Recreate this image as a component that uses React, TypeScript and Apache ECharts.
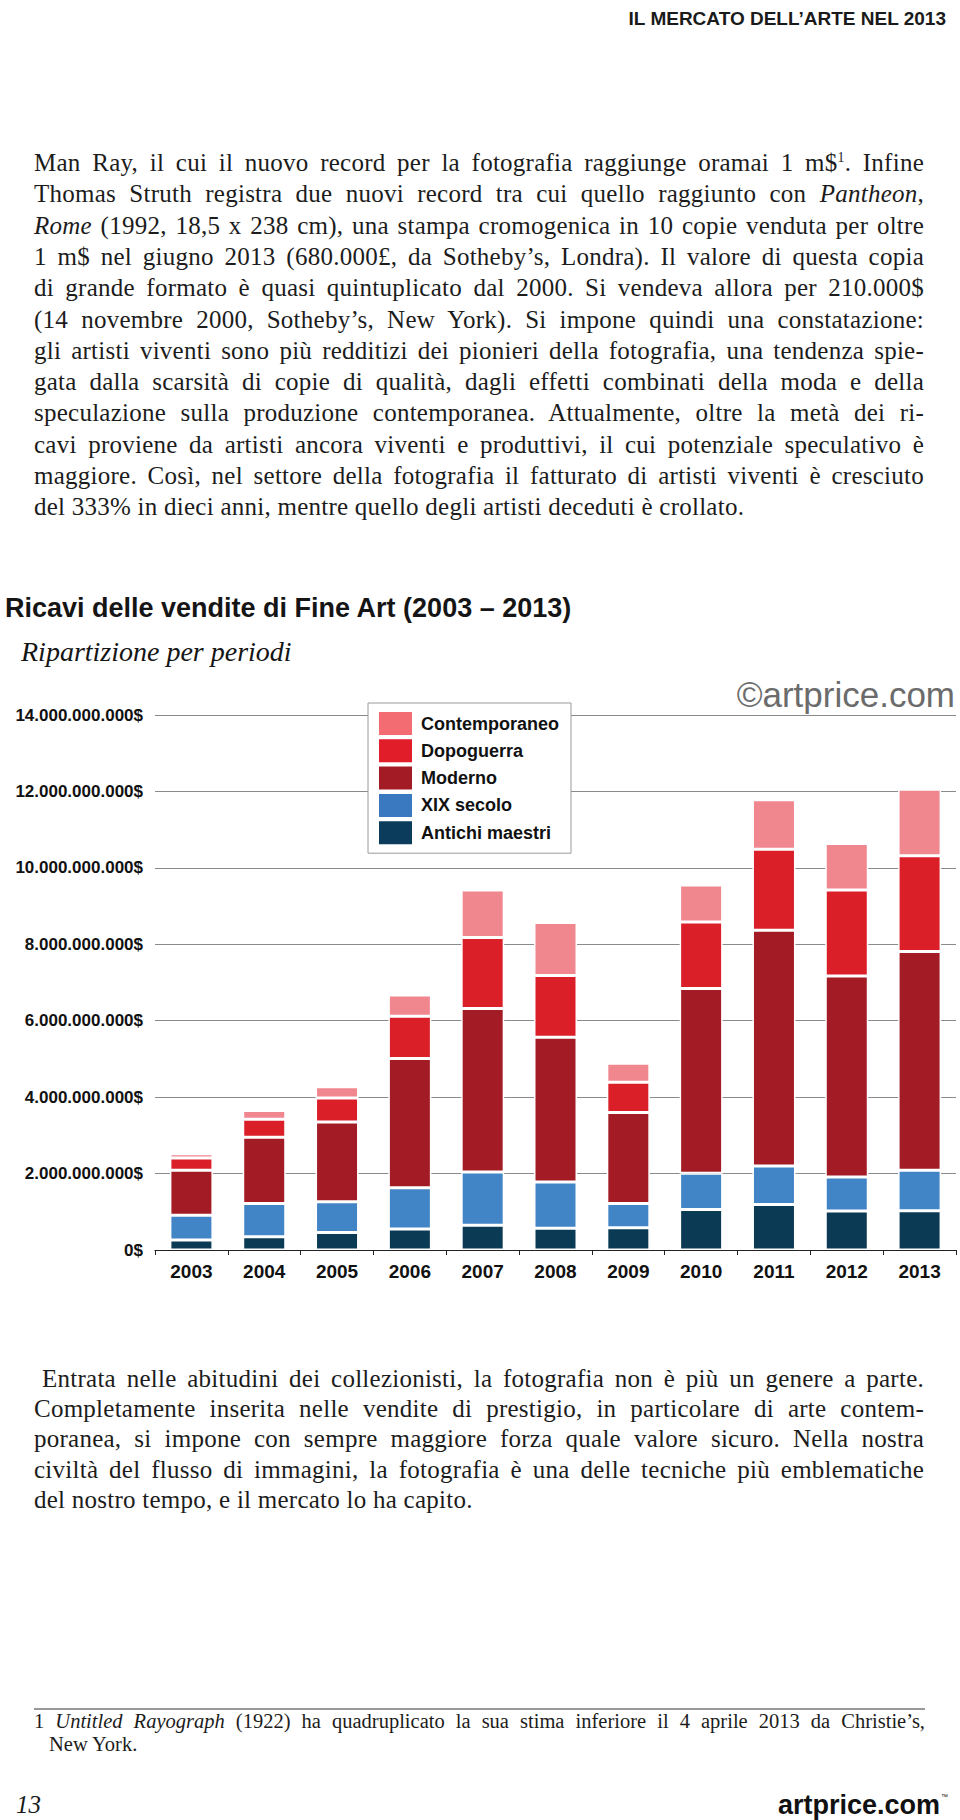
import React, { useEffect, useRef } from "react";
import * as echarts from "echarts";

// ---------- DATA (billions of US$) ----------
const years = ["2003", "2004", "2005", "2006", "2007", "2008", "2009", "2010", "2011", "2012", "2013"];
const antichiMaestri = [0.26, 0.35, 0.46, 0.55, 0.65, 0.57, 0.58, 1.06, 1.19, 1.02, 1.03];
const xixSecolo = [0.65, 0.87, 0.8, 1.08, 1.39, 1.21, 0.64, 0.95, 1.01, 0.89, 1.06];
const moderno = [1.18, 1.73, 2.09, 3.38, 4.28, 3.79, 2.38, 4.83, 6.17, 5.26, 5.72];
const dopoguerra = [0.32, 0.47, 0.63, 1.11, 1.86, 1.61, 0.79, 1.74, 2.12, 2.25, 2.51];
const contemporaneo = [0.11, 0.23, 0.29, 0.55, 1.24, 1.39, 0.5, 0.97, 1.29, 1.22, 1.74];
const yTickLabels = ["0$", "2.000.000.000$", "4.000.000.000$", "6.000.000.000$", "8.000.000.000$", "10.000.000.000$", "12.000.000.000$", "14.000.000.000$"];
const seriesNames = ["Antichi maestri", "XIX secolo", "Moderno", "Dopoguerra", "Contemporaneo"];
const legendOrder = ["Contemporaneo", "Dopoguerra", "Moderno", "XIX secolo", "Antichi maestri"];

const colors: Record<string, string> = {
  "Antichi maestri": "#0b3a55",
  "XIX secolo": "#4285c6",
  Moderno: "#a31c25",
  Dopoguerra: "#da1f29",
  Contemporaneo: "#f0868e",
};
const legendColors: Record<string, string> = {
  "Antichi maestri": "#0b3c5c",
  "XIX secolo": "#3a78c0",
  Moderno: "#a31c25",
  Dopoguerra: "#e21d2a",
  Contemporaneo: "#f26c71",
};

function hasFont(name: string): boolean {
  try {
    const c = document.createElement("canvas").getContext("2d");
    if (!c) return false;
    const s = "mmmmmmmmmmlli.0123456789WWW";
    c.font = "40px monospace";
    const a = c.measureText(s).width;
    c.font = `40px "${name}", monospace`;
    return Math.abs(c.measureText(s).width - a) > 0.5;
  } catch (e) {
    return false;
  }
}

const SERIF = "'Liberation Serif', 'Times New Roman', serif";
const SANS = "'Liberation Sans', Arial, sans-serif";

type Ln = { c: React.ReactNode; j: boolean; indent?: number };

const para1: Ln[] = [
  { c: <>Man Ray, il cui il nuovo record per la fotografia raggiunge oramai 1 m$<sup style={{ fontSize: "0.55em", lineHeight: 0 }}>1</sup>. Infine</>, j: true },
  { c: <>Thomas Struth registra due nuovi record tra cui quello raggiunto con <i>Pantheon</i>,</>, j: true },
  { c: <><i>Rome</i> (1992, 18,5 x 238 cm), una stampa cromogenica in 10 copie venduta per oltre</>, j: true },
  { c: <>1 m$ nel giugno 2013 (680.000£, da Sotheby’s, Londra). Il valore di questa copia</>, j: true },
  { c: <>di grande formato è quasi quintuplicato dal 2000. Si vendeva allora per 210.000$</>, j: true },
  { c: <>(14 novembre 2000, Sotheby’s, New York). Si impone quindi una constatazione:</>, j: true },
  { c: <>gli artisti viventi sono più redditizi dei pionieri della fotografia, una tendenza spie-</>, j: true },
  { c: <>gata dalla scarsità di copie di qualità, dagli effetti combinati della moda e della</>, j: true },
  { c: <>speculazione sulla produzione contemporanea. Attualmente, oltre la metà dei ri-</>, j: true },
  { c: <>cavi proviene da artisti ancora viventi e produttivi, il cui potenziale speculativo è</>, j: true },
  { c: <>maggiore. Così, nel settore della fotografia il fatturato di artisti viventi è cresciuto</>, j: true },
  { c: <>del 333% in dieci anni, mentre quello degli artisti deceduti è crollato.</>, j: false },
];

const para2: Ln[] = [
  { c: <>Entrata nelle abitudini dei collezionisti, la fotografia non è più un genere a parte.</>, j: true, indent: 8 },
  { c: <>Completamente inserita nelle vendite di prestigio, in particolare di arte contem-</>, j: true },
  { c: <>poranea, si impone con sempre maggiore forza quale valore sicuro. Nella nostra</>, j: true },
  { c: <>civiltà del flusso di immagini, la fotografia è una delle tecniche più emblematiche</>, j: true },
  { c: <>del nostro tempo, e il mercato lo ha capito.</>, j: false },
];

const footnote: Ln[] = [
  { c: <>1 <i>Untitled Rayograph</i> (1922) ha quadruplicato la sua stima inferiore il 4 aprile 2013 da Christie’s,</>, j: true },
  { c: <>New York.</>, j: false, indent: 15 },
];

function Lines({ lines, firstBaseline, pitch, size, left, width, spacing }: { lines: Ln[]; firstBaseline: number; pitch: number; size: number; left: number; width: number; spacing: number }) {
  return (
    <>
      {lines.map((l, i) => {
        const ind = l.indent || 0;
        return (
          <div
            key={i}
            data-fit="1"
            style={{
              position: "absolute",
              left: left + ind,
              width: width - ind,
              top: firstBaseline + i * pitch - 0.8375 * size,
              fontFamily: SERIF,
              fontSize: size,
              letterSpacing: spacing,
              lineHeight: `${size}px`,
              color: "#1c1c1c",
              textAlign: l.j ? "justify" : "left",
              textAlignLast: l.j ? "justify" : "left",
            } as React.CSSProperties}
          >
            {l.c}
          </div>
        );
      })}
    </>
  );
}

export default function App() {
  const ref = useRef<HTMLDivElement>(null);
  const wrap = useRef<HTMLDivElement>(null);

  useEffect(() => {
    // shrink any prose line that would wrap onto a second line
    if (wrap.current) {
      wrap.current.querySelectorAll<HTMLDivElement>("[data-fit]").forEach((el) => {
        const lh = parseFloat(el.style.lineHeight);
        let fs = parseFloat(el.style.fontSize);
        let ls = parseFloat(el.style.letterSpacing) || 0;
        let guard = 0;
        while (el.getBoundingClientRect().height > lh * 1.5 && guard < 60) {
          if (ls > 0) {
            ls = Math.max(0, ls - 0.1);
            el.style.letterSpacing = `${ls}px`;
          } else {
            fs -= 0.2;
            el.style.fontSize = `${fs}px`;
          }
          guard++;
        }
      });
    }

    if (!ref.current) return;
    const narrow = hasFont("Liberation Sans Narrow");
    const COND = narrow ? "'Liberation Sans Narrow', 'Arial Narrow', sans-serif" : SANS;
    const yLabelSize = narrow ? 20 : 17;
    const xLabelSize = narrow ? 22 : 19;
    const legendSize = narrow ? 21 : 18;
    const headerSize = narrow ? 23 : 19;

    const chart = echarts.init(ref.current, undefined, { renderer: "svg" });
    const seriesData = [antichiMaestri, xixSecolo, moderno, dopoguerra, contemporaneo];

    const option: any = {
      animation: false,
      backgroundColor: "#ffffff",
      grid: { left: 155, right: 4, top: 715, bottom: 570, containLabel: false },
      legend: {
        orient: "vertical",
        left: 368,
        top: 703,
        padding: [9, 12, 9, 11],
        itemWidth: 33,
        itemHeight: 23,
        itemGap: 4.3,
        icon: "rect",
        selectedMode: false,
        backgroundColor: "#ffffff",
        borderColor: "#9a9a9a",
        borderWidth: 1,
        itemStyle: { borderWidth: 0 },
        textStyle: {
          fontFamily: COND,
          fontWeight: "bold",
          fontSize: legendSize,
          color: "#111111",
          lineHeight: 23,
          padding: [0, 0, 0, 4],
        },
        data: legendOrder.map((n) => ({ name: n, itemStyle: { color: legendColors[n], borderWidth: 0 } })),
      },
      xAxis: {
        type: "category",
        data: years,
        z: 5,
        axisLine: { show: true, lineStyle: { color: "#222222", width: 1.2 } },
        axisTick: { show: true, length: 5, lineStyle: { color: "#222222", width: 1 } },
        axisLabel: {
          fontFamily: COND,
          fontWeight: "bold",
          fontSize: xLabelSize,
          color: "#111111",
          margin: 12,
        },
      },
      yAxis: {
        type: "value",
        min: 0,
        max: 14,
        interval: 2,
        axisLine: { show: false },
        axisTick: { show: false },
        splitLine: { show: true, lineStyle: { color: "#8a8a8a", width: 1 } },
        axisLabel: {
          fontFamily: COND,
          fontWeight: "bold",
          fontSize: yLabelSize,
          color: "#111111",
          margin: 12,
          formatter: (v: number) => yTickLabels[Math.round(v / 2)] ?? "",
        },
      },
      series: seriesNames.map((name, i) => ({
        name,
        type: "bar",
        stack: "totale",
        barWidth: 43,
        data: seriesData[i],
        itemStyle: { color: colors[name], borderColor: "#ffffff", borderWidth: 1.5 },
        emphasis: { disabled: true },
      })),
      graphic: {
        elements: [
          {
            type: "text",
            x: 946,
            y: 18,
            style: { text: "IL MERCATO DELL’ARTE NEL 2013", fill: "#1a1a1a", fontFamily: COND, fontWeight: "bold", fontSize: headerSize, align: "right", verticalAlign: "middle" },
          },
          {
            type: "text",
            x: 5,
            y: 608,
            style: { text: "Ricavi delle vendite di Fine Art (2003 – 2013)", fill: "#151515", fontFamily: SANS, fontWeight: "bold", fontSize: 27, align: "left", verticalAlign: "middle" },
          },
          {
            type: "text",
            x: 21,
            y: 651,
            style: { text: "Ripartizione per periodi", fill: "#151515", fontFamily: SERIF, fontStyle: "italic", fontSize: 28, align: "left", verticalAlign: "middle" },
          },
          {
            type: "text",
            x: 955,
            y: 694,
            style: { text: "©artprice.com", fill: "#6b6b6b", fontFamily: SANS, fontSize: 35, align: "right", verticalAlign: "middle" },
          },
          {
            type: "line",
            shape: { x1: 34, y1: 1709, x2: 925, y2: 1709 },
            style: { stroke: "#333333", lineWidth: 1 },
          },
          {
            type: "text",
            x: 16,
            y: 1804,
            style: { text: "13", fill: "#1a1a1a", fontFamily: SERIF, fontStyle: "italic", fontSize: 25, align: "left", verticalAlign: "middle" },
          },
          {
            type: "text",
            x: 940,
            y: 1805,
            style: { text: "artprice.com", fill: "#111111", fontFamily: SANS, fontWeight: "bold", fontSize: 27, align: "right", verticalAlign: "middle" },
          },
          {
            type: "text",
            x: 941,
            y: 1796,
            style: { text: "™", fill: "#111111", fontFamily: SANS, fontSize: 7, align: "left", verticalAlign: "middle" },
          },
        ],
      },
    };
    chart.setOption(option);
    return () => chart.dispose();
  }, []);

  return (
    <div ref={wrap} style={{ position: "absolute", left: 0, top: 0, width: 960, height: 1820, overflow: "hidden", background: "#fff" }}>
      <div ref={ref} style={{ position: "absolute", left: 0, top: 0, width: 960, height: 1820 }} />
      <Lines lines={para1} firstBaseline={171} pitch={31.3} size={25} left={34} width={890} spacing={0.25} />
      <Lines lines={para2} firstBaseline={1387} pitch={30.2} size={25} left={34} width={890} spacing={0.25} />
      <Lines lines={footnote} firstBaseline={1728} pitch={23} size={20.5} left={34} width={891} spacing={0} />
    </div>
  );
}
